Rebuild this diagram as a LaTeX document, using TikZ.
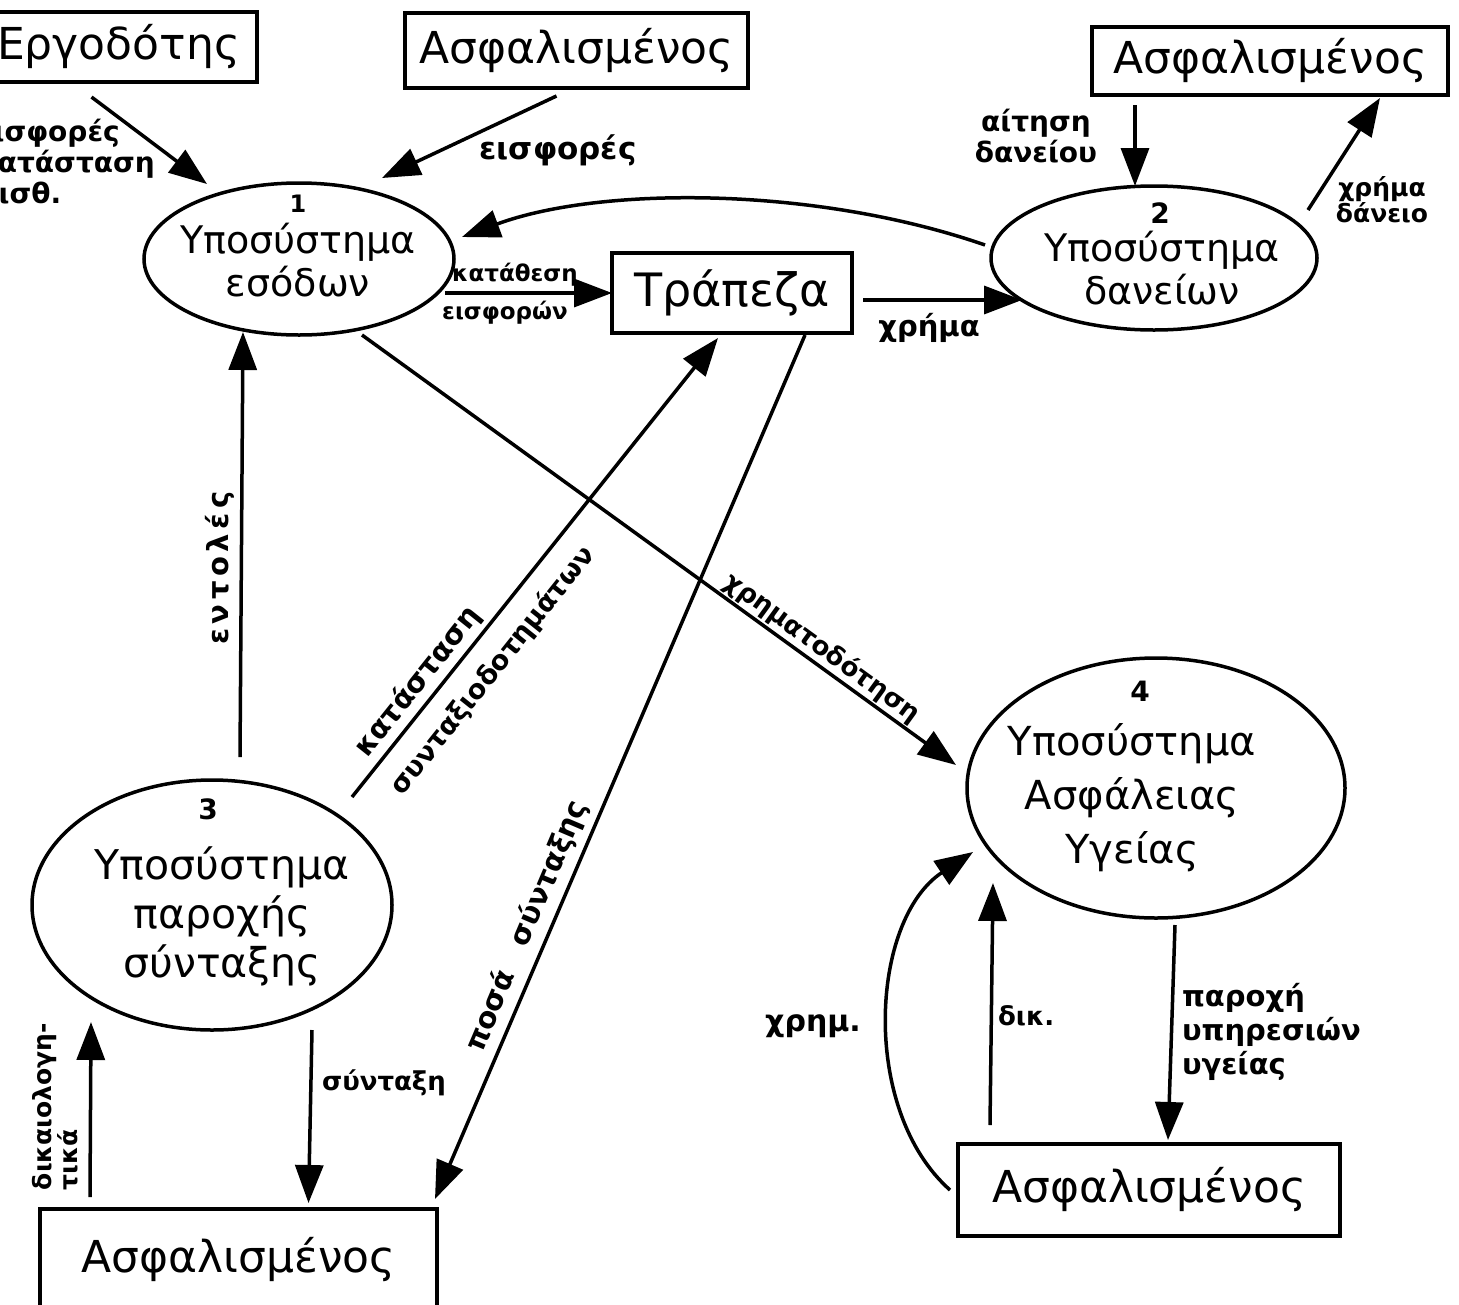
\documentclass[tikz,border=0pt]{standalone}
\usepackage{fontspec}
\setmainfont{DejaVu Sans}
\usetikzlibrary{arrows.meta,shapes.geometric,calc}
\begin{document}
\begin{tikzpicture}[x=1pt,y=-1pt,
  every node/.style={inner sep=0pt, outer sep=0pt},
  box/.style={draw, line width=3.5pt, rectangle, font=\fontsize{44}{48}\selectfont},
  proc/.style={draw, line width=3.5pt, ellipse},
  ptext/.style={align=center, font=\fontsize{38}{43}\selectfont},
  pnum/.style={font=\fontsize{28}{30}\bfseries\selectfont},
  lbl/.style={font=\fontsize{29}{31}\bfseries\selectfont},
  flow/.style={line width=3.5pt, -{Triangle[length=38pt,width=28pt]}},
]
\useasboundingbox (0,0) rectangle (1459,1304);
\clip (0,0) rectangle (1459,1304);

% external entities
\node[box, minimum width=277pt, minimum height=70pt] (erg) at (118.5,47) {Εργοδότης};
\node[box, minimum width=343pt, minimum height=75pt] (asf1) at (576.5,50.5) {Ασφαλισμένος};
\node[box, minimum width=356pt, minimum height=68pt] (asf2) at (1270,61) {Ασφαλισμένος};
\node[box, minimum width=240pt, minimum height=80pt, font=\fontsize{46}{50}\selectfont] (bank) at (732,293) {Τράπεζα};
\node[box, minimum width=397pt, minimum height=101pt] (asf3) at (238.5,1259.5) {Ασφαλισμένος};
\node[box, minimum width=382pt, minimum height=92pt] (asf4) at (1149,1190) {Ασφαλισμένος};

% processes
\node[proc, minimum width=310pt, minimum height=152pt] (e1) at (299,259) {};
\node[proc, minimum width=326pt, minimum height=144pt] (e2) at (1154,258) {};
\node[proc, minimum width=360pt, minimum height=250pt] (e3) at (212,905) {};
\node[proc, minimum width=378pt, minimum height=260pt] (e4) at (1156,788) {};

\node[pnum, font=\fontsize{24}{26}\bfseries\selectfont] (e1n) at (298,204) {1};
\node[ptext] (e1t) at (298,260) {Υποσύστημα\\εσόδων};
\node[pnum] (e2n) at (1160,213) {2};
\node[ptext] (e2t) at (1162,268) {Υποσύστημα\\δανείων};
\node[pnum] (e3n) at (208,809) {3};
\node[ptext, font=\fontsize{41}{49}\selectfont] (e3t) at (222,916) {Υποσύστημα\\παροχής\\σύνταξης};
\node[pnum] (e4n) at (1140,691) {4};
\node[ptext, font=\fontsize{40}{54}\selectfont] (e4t) at (1132,798) {Υποσύστημα\\Ασφάλειας\\Υγείας};

% flows
\draw[flow] ($(erg.south)+(-27,15)$) -- ($(e1)+(-92,-75)$);
\node[lbl, font=\fontsize{28}{31}\bfseries\selectfont, anchor=west, align=left] (l0) at (-22,164) {εισφορές\\κατάσταση\\μισθ.};

\draw[flow] ($(asf1.south)+(-20,8)$) -- ($(e1)+(83,-81)$);
\node[lbl, font=\fontsize{31}{36}\bfseries\selectfont] (l1) at (558,150) {εισφορές};

\draw[flow] ($(e2)+(-169,-13)$) .. controls (815,186) and (600,186) .. ($(e1)+(163,-22)$);

\draw[flow] ($(e1)+(146,34)$) -- (bank.west);
\node[lbl, font=\fontsize{23}{28}\bfseries\selectfont] (l2a) at (515,275) {κατάθεση};
\node[lbl, font=\fontsize{23}{28}\bfseries\selectfont] (l2b) at (505,313) {εισφορών};

\draw[flow] ($(bank.east)+(11,7)$) -- ($(e2)+(-132,42)$);
\node[lbl, font=\fontsize{29}{35}\bfseries\selectfont] (l3) at (929,328) {χρήμα};

\draw[flow] ($(asf2.south)+(-135,10)$) -- ($(e2)+(-19,-72)$);
\node[lbl, align=center, font=\fontsize{28}{31}\bfseries\selectfont] (l4) at (1036,136) {αίτηση\\δανείου};

\draw[flow] ($(e2)+(154,-48)$) -- ($(asf2.south)+(110,3)$);
\node[lbl, align=center, font=\fontsize{25}{26}\bfseries\selectfont] (l5) at (1382,200) {χρήμα\\δάνειο};

\draw[flow] ($(e1)+(63,76)$) -- ($(e4)+(-200,-23)$);
\node[lbl, font=\fontsize{26}{31}\bfseries\selectfont, rotate=-36] (l6) at (822,648) {χρηματοδότηση};

\draw[flow] ($(e3)+(140,-108)$) -- ($(bank.south)+(-14,5)$);
\node[lbl, rotate=51.4] (l7a) at (418,682) {κατάσταση};
\node[lbl, font=\fontsize{27}{32}\bfseries\selectfont, rotate=51.4] (l7b) at (493,671) {συνταξιοδοτημάτων};

\draw[flow] ($(bank.south)+(73,2)$) -- ($(asf3.north east)+(-2,-10)$);
\node[lbl, rotate=67] (l8) at (527,926) {ποσά\quad σύνταξης};

\draw[flow] ($(e3)+(28,-148)$) -- ($(e1)+(-56,73)$);
\node[lbl, rotate=90] (l9) at (220,568) {\addfontfeature{LetterSpace=16}εντολές};

\draw[flow] ($(asf3.north west)+(50,-12)$) -- ($(e3)+(-121,117)$);
\node[lbl, font=\fontsize{25}{25}\bfseries\selectfont, rotate=90, align=left, anchor=north west] (l10) at (32,1190) {δικαιολογη-\\τικά};

\draw[flow] ($(e3)+(100,125)$) -- ($(asf3.north)+(70,-6)$);
\node[lbl, font=\fontsize{26}{31}\bfseries\selectfont, anchor=west] (l11) at (322,1083) {σύνταξη};

\draw[flow] ($(asf4.west)+(-8,0)$) .. controls (860,1110) and (870,920) .. ($(e4)+(-183,64)$);
\node[lbl, font=\fontsize{30}{36}\bfseries\selectfont] (l12) at (813,1026) {χρημ.};

\draw[flow] ($(asf4.north)+(-159,-19)$) -- ($(e4)+(-163,95)$);
\node[lbl, font=\fontsize{26}{31}\bfseries\selectfont, anchor=west] (l13) at (998,1016) {δικ.};

\draw[flow] ($(e4)+(19,137)$) -- ($(asf4.north)+(19,-4)$);
\node[lbl, font=\fontsize{29}{34}\bfseries\selectfont, anchor=west, align=left] (l14) at (1182,1032) {παροχή\\υπηρεσιών\\υγείας};
\end{tikzpicture}
\end{document}
